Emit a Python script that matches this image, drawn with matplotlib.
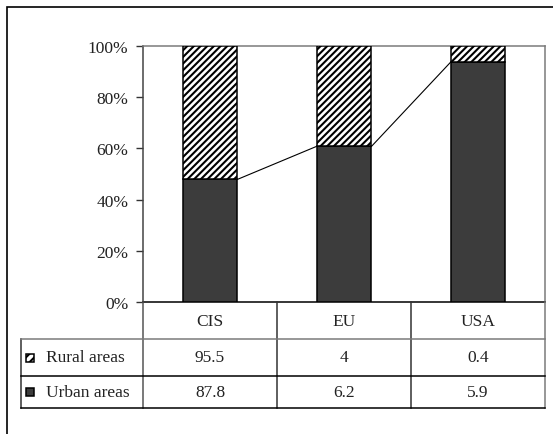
import matplotlib
matplotlib.use("Agg")
import matplotlib.pyplot as plt
from matplotlib.patches import Rectangle

regions = ["CIS", "EU", "USA"]
series_names = ["Rural areas", "Urban areas"]
rural = [95.5, 4, 0.4]
urban = [87.8, 6.2, 5.9]
rural_txt = ["95.5", "4", "0.4"]
urban_txt = ["87.8", "6.2", "5.9"]
yticks = [0, 20, 40, 60, 80, 100]
ytick_labels = ["0%", "20%", "40%", "60%", "80%", "100%"]

plt.rcParams['font.family'] = ['Liberation Serif', 'DejaVu Serif']
plt.rcParams['hatch.linewidth'] = 1.5
plt.rcParams['hatch.color'] = '#606060'
FS = 12.5
TXT = '#222222'
GRAY = '#7a7a7a'

W, H = 553, 435
fig = plt.figure(figsize=(W / 100, H / 100), dpi=100)

# outer frame (extends past right/bottom edge)
fig.patches.append(Rectangle((7 / W, -0.05), 1.2, 1 - 8 / H + 0.05, transform=fig.transFigure,
                             fill=False, edgecolor='black', linewidth=1.2))

ax = fig.add_axes([143 / W, 1 - 303 / H, (545 - 143) / W, (303 - 47) / H])
ax.set_xlim(-0.5, 2.5)
ax.set_ylim(0, 100)

urban_pct = [u / (u + r) * 100 for u, r in zip(urban, rural)]
rural_pct = [100 - p for p in urban_pct]
xs = list(range(len(regions)))
bw = 0.41
ax.bar(xs, urban_pct, width=bw, color='#3c3c3c', edgecolor='black', linewidth=1.1, zorder=3)
ax.bar(xs, rural_pct, width=bw, bottom=urban_pct, color='white', edgecolor='black',
       hatch='/////', linewidth=1.1, zorder=3)
# series lines
for i in range(len(xs) - 1):
    ax.plot([xs[i] + bw / 2, xs[i + 1] - bw / 2], [urban_pct[i], urban_pct[i + 1]],
            color='black', linewidth=0.8, zorder=2)

ax.set_yticks(yticks)
ax.set_yticklabels(ytick_labels, fontsize=FS, color=TXT)
ax.set_xticks([])
ax.tick_params(axis='y', direction='out', length=5, width=1, pad=5.5, color='#333333')
ax.spines['left'].set_color('#444444')
ax.spines['bottom'].set_color('black')
ax.spines['top'].set_color(GRAY)
ax.spines['right'].set_color(GRAY)
for s in ax.spines.values():
    s.set_linewidth(1.1)

# data table
lab_w = 122 / 134
tax = fig.add_axes([21 / W, 1 - 409 / H, (545 - 21) / W, (409 - 303) / H])
tax.set_xlim(-0.5 - lab_w, 2.5)
tax.set_ylim(106, 0)
tax.axis('off')
rows = [0, 37, 74, 106]
left = -0.5 - lab_w
for xv, col in [(-0.5, '#555555'), (0.5, '#333333'), (1.5, '#333333'), (2.5, GRAY)]:
    tax.plot([xv, xv], [rows[0], rows[3]], color=col, linewidth=1.1, clip_on=False)
tax.plot([left, left], [rows[1], rows[3]], color='#333333', linewidth=1.1, clip_on=False)
tax.plot([left, 2.5], [rows[1], rows[1]], color=GRAY, linewidth=1.1, clip_on=False)
tax.plot([left, 2.5], [rows[2], rows[2]], color='black', linewidth=1.1, clip_on=False)
tax.plot([left, 2.5], [rows[3], rows[3]], color='black', linewidth=1.1, clip_on=False)

for i, name in enumerate(regions):
    tax.text(i, (rows[0] + rows[1]) / 2, name, ha='center', va='center', fontsize=FS, color=TXT)
    tax.text(i, (rows[1] + rows[2]) / 2, rural_txt[i], ha='center', va='center', fontsize=FS, color=TXT)
    tax.text(i, (rows[2] + rows[3]) / 2, urban_txt[i], ha='center', va='center', fontsize=FS, color=TXT)

sw = 8 / 134
sh = 8
for r, (name, kw) in enumerate([(series_names[0], dict(facecolor='white', hatch='////')),
                                (series_names[1], dict(facecolor='#3c3c3c'))]):
    yc = (rows[r + 1] + rows[r + 2]) / 2
    tax.add_patch(Rectangle((left + 5 / 134, yc - sh / 2), sw, sh, edgecolor='black',
                            linewidth=1.1, clip_on=False, **kw))
    tax.text(left + 25 / 134, yc, name, ha='left', va='center', fontsize=FS, color=TXT)

fig.savefig('out.png', dpi=100)
